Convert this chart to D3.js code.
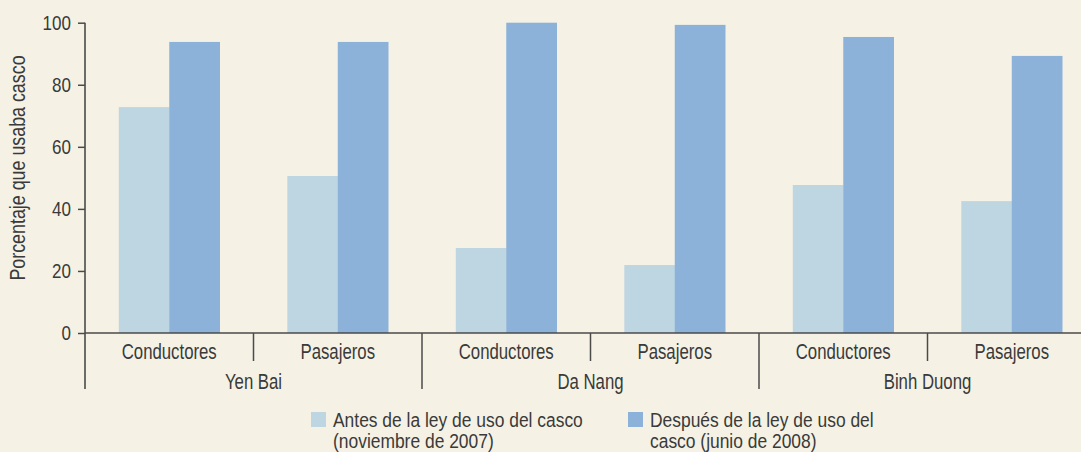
<!DOCTYPE html>
<html>
<head>
<meta charset="utf-8">
<script src="https://cdn.jsdelivr.net/npm/d3@7"></script>
<style>
  body { margin: 0; background: #f5f2e5; }
  svg { display: block; font-family: "Liberation Sans", Arial, sans-serif; }
</style>
</head>
<body>
<div id="chart"></div>
<script>
// Chart data
const groups = ["Yen Bai", "Da Nang", "Binh Duong"]
const subcats = ["Conductores", "Pasajeros"]
const antes = [72.8, 50.6, 27.4, 21.9, 47.7, 42.5]
const despues = [93.8, 93.8, 100, 99.3, 95.4, 89.3]
const yTicks = [0, 20, 40, 60, 80, 100]
const legendLines = [["Antes de la ley de uso del casco", "(noviembre de 2007)"],
                     ["Después de la ley de uso del", "casco (junio de 2008)"]]

const w = 1081
const h = 452
const left = 85
const right = 1096
const textColor = "#3a3a3a"
const lineColor = "#4a4a4a"
const colors = ["#bed6e2", "#8cb2d9"]
// no condensed font installed, so squeeze the text horizontally
const squeeze = 0.83
const squeezeLabel = 0.78

// flatten into rows: one per group/subcategory
const rows = []
groups.forEach((g, gi) => {
  subcats.forEach((s, si) => {
    const i = gi * subcats.length + si
    rows.push({ group: g, sub: s, values: [antes[i], despues[i]] })
  })
})

const svg = d3.select("#chart")
  .append("svg")
  .attr("width", w)
  .attr("height", h)

svg.append("rect").attr("width", w).attr("height", h).attr("fill", "#f5f2e5")

const yScale = d3.scaleLinear()
  .domain([0, 100])
  .range([333, 22.7])

const xGroup = d3.scaleBand()
  .domain(groups)
  .range([left, right])

const xSub = d3.scaleBand()
  .domain(subcats)
  .range([0, xGroup.bandwidth()])

const xSeries = d3.scaleBand()
  .domain([0, 1])
  .range([0, xSub.bandwidth()])
  .paddingOuter(0.67)

// Bars
const cells = svg.selectAll("g.cell")
  .data(rows)
  .enter()
  .append("g")
  .attr("class", "cell")
  .attr("transform", d => `translate(${xGroup(d.group) + xSub(d.sub)},0)`)

cells.selectAll("rect")
  .data(d => d.values)
  .enter()
  .append("rect")
  .attr("x", (d, i) => xSeries(i))
  .attr("y", d => yScale(d))
  .attr("width", xSeries.bandwidth() + 0.3)
  .attr("height", d => yScale(0) - yScale(d))
  .attr("fill", (d, i) => colors[i])

// Y axis
const yAxis = d3.axisLeft(yScale)
  .tickValues(yTicks)
  .tickSize(7)
const yG = svg.append("g")
  .attr("transform", `translate(${left},0)`)
  .call(yAxis)
yG.select(".domain").remove()
yG.selectAll(".tick line").attr("stroke", lineColor).attr("stroke-width", 1.5)
yG.selectAll(".tick text")
  .attr("fill", textColor)
  .attr("x", -14 / squeeze)
  .attr("transform", `scale(${squeeze},1)`)
  .style("font-size", "20.5px")
  .style("font-family", "Liberation Sans, Arial, sans-serif")

// vertical axis line, runs down past the category labels
svg.append("line")
  .attr("x1", left).attr("x2", left)
  .attr("y1", yScale(100)).attr("y2", 389)
  .attr("stroke", lineColor).attr("stroke-width", 1.6)

// X axis line
svg.append("line")
  .attr("x1", left).attr("x2", w)
  .attr("y1", yScale(0)).attr("y2", yScale(0))
  .attr("stroke", lineColor).attr("stroke-width", 1.6)

// separators between subcategories (short) and groups (long)
groups.forEach((g, gi) => {
  const x0 = xGroup(g)
  if (gi > 0) {
    svg.append("line")
      .attr("x1", x0).attr("x2", x0)
      .attr("y1", yScale(0)).attr("y2", 389)
      .attr("stroke", lineColor).attr("stroke-width", 1.5)
  }
  const xs = x0 + xSub(subcats[1])
  svg.append("line")
    .attr("x1", xs).attr("x2", xs)
    .attr("y1", yScale(0)).attr("y2", 361)
    .attr("stroke", lineColor).attr("stroke-width", 1.5)
})

// subcategory labels
svg.selectAll("text.sub")
  .data(rows)
  .enter()
  .append("text")
  .attr("class", "sub")
  .attr("transform", d => `translate(${xGroup(d.group) + xSub(d.sub) + xSub.bandwidth() / 2},358.5) scale(${squeezeLabel},1)`)
  .attr("text-anchor", "middle")
  .attr("fill", textColor)
  .style("font-size", "21.5px")
  .text(d => d.sub)

// group labels
svg.selectAll("text.group")
  .data(groups)
  .enter()
  .append("text")
  .attr("class", "group")
  .attr("transform", d => `translate(${xGroup(d) + xGroup.bandwidth() / 2},388.5) scale(${squeezeLabel},1)`)
  .attr("text-anchor", "middle")
  .attr("fill", textColor)
  .style("font-size", "21.5px")
  .text(d => d)

// Y axis title
svg.append("text")
  .attr("transform", `translate(25,168) rotate(-90) scale(${squeeze},1)`)
  .attr("text-anchor", "middle")
  .attr("fill", textColor)
  .style("font-size", "21.5px")
  .text("Porcentaje que usaba casco")

// Legend
const legendX = [311, 628]
legendLines.forEach((lines, i) => {
  svg.append("rect")
    .attr("x", legendX[i])
    .attr("y", 412)
    .attr("width", 15)
    .attr("height", 15)
    .attr("fill", colors[i])
  const t = svg.append("text")
    .attr("transform", `translate(${legendX[i] + 22},427) scale(${squeeze},1)`)
    .attr("fill", textColor)
    .style("font-size", "21px")
  lines.forEach((l, li) => {
    t.append("tspan")
      .attr("x", 0)
      .attr("y", li * 21)
      .text(l)
  })
})
</script>
</body>
</html>
